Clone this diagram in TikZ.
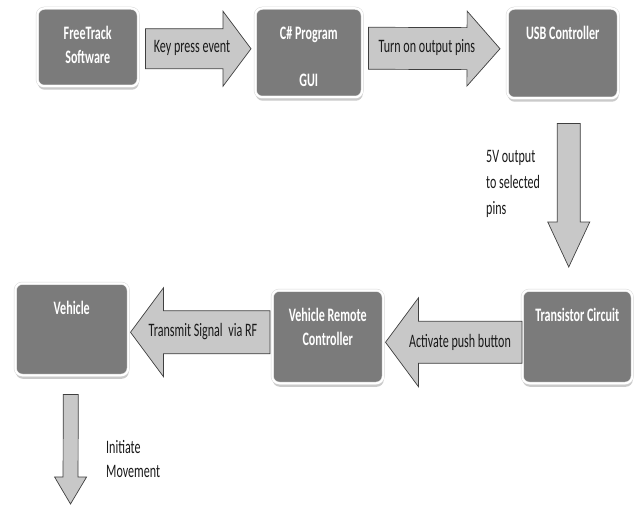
\documentclass[tikz,border=0pt]{standalone}
\usepackage{fontspec}
\setmainfont{Carlito}[FakeStretch=0.635]
\usetikzlibrary{calc,shadows}
\definecolor{blkgray}{HTML}{7B7B7B}
\definecolor{arrgray}{HTML}{C8C8C8}
\definecolor{arredge}{HTML}{3F3F3F}
\tikzset{
  blk/.style={draw=gray!30, double=white, double distance=2pt, line width=0.5pt,
    fill=blkgray, rounded corners=7pt, inner sep=0pt,
    drop shadow={shadow xshift=0.5pt, shadow yshift=-3.5pt, fill=gray!70, opacity=0.6}},
  blktxt/.style={anchor=north, text=white, font=\fontsize{19}{24}\selectfont\bfseries,
    align=center, inner sep=0pt},
  lbl/.style={text=black!90, font=\fontsize{19}{24}\selectfont, inner sep=0pt},
  barr/.style={fill=arrgray, draw=arredge, line width=0.7pt}}
\newcommand{\blk}[6]{%
  \node[blk, minimum width=#4, minimum height=#5, anchor=north west] (#1) at (#2,-#3) {};
  \node[blktxt] (#1txt) at ([yshift=-18]#1.north) {#6};}
\newcommand{\barr}[7]{%
  \coordinate (bs) at ($(#1)+(#2)$);
  \coordinate (bt) at ($(#3)+(#4)$);
  \coordinate (bh) at ($(bt)!#7!(bs)$);
  \draw[barr] ($(bs)!#5!90:(bt)$) -- ($(bh)!#5!90:(bt)$) -- ($(bh)!#6!90:(bt)$) -- (bt)
    -- ($(bh)!#6!-90:(bt)$) -- ($(bh)!#5!-90:(bt)$) -- ($(bs)!#5!-90:(bt)$) -- cycle;}

\begin{document}
\begin{tikzpicture}[x=1pt, y=1pt]
  \useasboundingbox (0,0) rectangle (634,-505);
  \blk{ft}{37}{8}{101}{78}{FreeTrack\\Software}
  \blk{cs}{255}{8}{107}{89}{C\# Program\\[23pt]GUI}
  \blk{us}{507}{8}{111}{90}{USB Controller}
  \blk{ve}{15}{283}{113}{92}{Vehicle}
  \blk{vr}{272}{290}{111}{93}{Vehicle Remote\\Controller}
  \blk{tc}{522}{290}{110}{93}{Transistor Circuit}
  \coordinate (mv) at (70.5,-504);
  \barr{ft.east}{7,-1.5}{cs.west}{-4,4}{20pt}{37.5pt}{28pt}
  \barr{cs.east}{6,4.5}{us.west}{-7,4.5}{21pt}{37.5pt}{33pt}
  \barr{us.south}{6,-25}{tc.north}{-8.5,23}{11.5pt}{21pt}{45pt}
  \barr{tc.west}{0,-5.5}{vr.east}{2,-5.5}{21pt}{44.5pt}{33pt}
  \barr{vr.west}{-2,4.5}{ve.east}{2,-3}{21.5pt}{44.5pt}{33pt}
  \barr{ve.south}{-1,-19}{mv}{0,0}{7.5pt}{16pt}{27pt}
  \node[lbl] (kp) at (192,-48) {Key press event};
  \node[lbl] (op) at (427,-47) {Turn on output pins};
  \node[lbl, anchor=north west, align=left, font=\fontsize{19}{26}\selectfont] (fv) at (486,-150) {5V output\\to selected\\pins};
  \node[lbl] (pb) at (460,-342) {Activate push button};
  \node[lbl] (rf) at (203,-332) {Transmit Signal\hspace{3pt} via RF};
  \node[lbl, anchor=north west, align=left] (im) at (106,-440) {Initiate\\Movement};
\end{tikzpicture}
\end{document}
